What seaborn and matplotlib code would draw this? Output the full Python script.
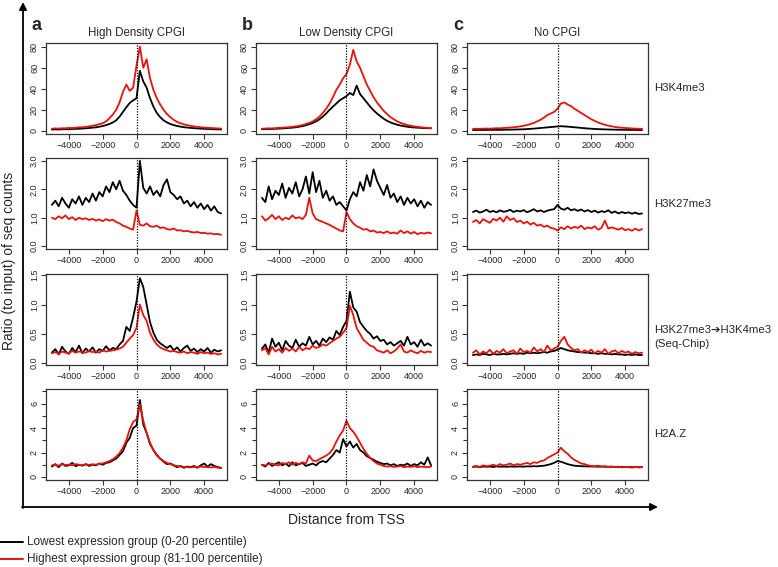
import matplotlib
matplotlib.use("Agg")
import matplotlib.pyplot as plt
import matplotlib.ticker as mticker
import seaborn as sns
import pandas as pd

# posicoes (pb) em relacao ao TSS
dist = list(range(-5000, 5001, 200))

col_titles = ["High Density CPGI", "Low Density CPGI", "No CPGI"]
col_letters = ["a", "b", "c"]
row_labels = ["H3K4me3", "H3K27me3", "H3K27me3\u2794H3K4me3\n(Seq-Chip)", "H2A.Z"]
group_names = ["Lowest expression group (0-20 percentile)",
               "Highest expression group (81-100 percentile)"]

# H3K4me3
k4_hd_low = [1.2, 1.4, 1.3, 1.5, 1.6, 1.5, 1.8, 1.9, 2.0, 2.2, 2.4, 2.7, 3.0, 3.4, 3.9, 4.6, 5.4, 6.5, 8.0, 10.0,
             13.5, 18.0, 22.5, 26.5, 29.0, 31.0,
             57.0, 47.0, 41.0, 31.0, 23.0, 17.0, 13.0, 10.0, 8.0, 6.5, 5.5, 4.6, 4.0, 3.5, 3.1, 2.8, 2.5, 2.3, 2.1, 1.9,
             1.8, 1.6, 1.5, 1.4, 1.3]
k4_hd_high = [2.0, 2.3, 2.1, 2.5, 2.4, 2.8, 2.7, 3.0, 3.3, 3.4, 3.8, 4.2, 4.8, 5.5, 6.3, 7.2, 9.0, 12.0, 15.5, 20.0,
              27.0, 37.0, 44.0, 38.0, 41.0, 62.0,
              80.0, 60.0, 68.0, 50.0, 39.0, 31.0, 25.0, 20.0, 16.0, 13.0, 10.5, 8.5, 7.2, 6.2, 5.4, 4.7, 4.2, 3.8, 3.4, 3.1,
              2.9, 2.7, 2.5, 2.3, 2.2]
k4_ld_low = [1.5, 1.6, 1.8, 1.7, 2.0, 2.1, 2.3, 2.5, 2.8, 3.0, 3.4, 3.9, 4.5, 5.3, 6.3, 7.5, 9.0, 11.0, 13.5, 16.5,
             20.0, 23.0, 26.0, 29.0, 31.0, 33.0,
             36.0, 34.0, 43.0, 35.0, 31.0, 27.0, 23.0, 19.5, 16.5, 14.0, 11.5, 9.5, 8.0, 6.8, 5.8, 5.0, 4.4, 3.9, 3.5, 3.2,
             3.0, 2.8, 2.6, 2.5, 2.4]
k4_ld_high = [2.0, 2.2, 2.4, 2.3, 2.6, 2.8, 3.0, 3.2, 3.5, 3.8, 4.2, 4.8, 5.5, 6.5, 7.5, 9.0, 11.0, 13.5, 17.0, 21.0,
              26.0, 32.0, 39.0, 44.0, 50.0, 54.0,
              63.0, 77.0, 66.0, 60.0, 52.0, 44.0, 38.0, 32.0, 27.0, 23.0, 19.0, 16.0, 13.0, 11.0, 9.0, 7.5, 6.5, 5.5, 4.8, 4.2,
              3.8, 3.4, 3.1, 2.8, 2.6]
k4_no_low = [0.8, 0.8, 0.9, 0.8, 0.9, 0.9, 1.0, 0.9, 1.0, 1.0, 1.1, 1.1, 1.2, 1.3, 1.4, 1.5, 1.7, 1.9, 2.1, 2.4,
             2.7, 3.0, 3.3, 3.6, 3.9, 4.2,
             4.4, 4.2, 4.0, 3.7, 3.4, 3.1, 2.8, 2.5, 2.2, 2.0, 1.8, 1.6, 1.5, 1.4, 1.3, 1.2, 1.1, 1.1, 1.0, 1.0,
             0.9, 0.9, 0.9, 0.8, 0.8]
k4_no_high = [1.8, 2.0, 1.9, 2.1, 2.2, 2.0, 2.3, 2.5, 2.4, 2.7, 2.9, 3.1, 3.4, 3.8, 4.2, 4.8, 5.5, 6.5, 7.5, 9.0,
              10.5, 12.5, 15.0, 16.5, 18.0, 21.0,
              26.0, 27.0, 25.0, 23.5, 21.0, 19.0, 17.0, 15.0, 13.0, 11.0, 9.5, 8.0, 6.8, 5.8, 5.0, 4.3, 3.7, 3.3, 3.0, 2.7,
              2.5, 2.3, 2.1, 2.0, 1.9]

# H3K27me3
k27_hd_low = [1.45, 1.60, 1.40, 1.70, 1.50, 1.35, 1.65, 1.50, 1.75, 1.45, 1.70, 1.55, 1.85, 1.60, 1.90, 1.75, 2.10, 1.90,
              2.25, 2.00, 2.30, 1.95, 1.80, 1.60, 1.45, 1.35,
              3.00, 2.05, 1.85, 2.10, 1.80, 1.95, 1.75, 2.15, 2.35, 1.90, 1.80, 1.65, 1.75, 1.50, 1.60, 1.40, 1.55, 1.35,
              1.50, 1.30, 1.45, 1.25, 1.40, 1.20, 1.15]
k27_hd_high = [1.00, 0.95, 1.05, 0.98, 1.08, 0.95, 1.02, 0.92, 1.00, 0.95, 0.98, 0.92, 0.96, 0.90, 0.94, 0.88, 0.95, 0.90,
               0.93, 0.85, 0.80, 0.72, 0.68, 0.62, 0.58, 1.25,
               0.75, 0.72, 0.80, 0.70, 0.68, 0.72, 0.64, 0.66, 0.60, 0.58, 0.62, 0.55, 0.56, 0.52, 0.54, 0.50, 0.48, 0.50,
               0.46, 0.47, 0.44, 0.45, 0.42, 0.43, 0.40]
k27_ld_low = [1.70, 1.55, 2.10, 1.65, 1.95, 1.80, 2.20, 1.70, 2.05, 1.85, 2.25, 1.75, 2.00, 2.45, 1.85, 2.60, 1.90, 2.30,
              1.70, 1.95, 1.60, 1.75, 1.45, 1.55, 1.40, 1.25,
              1.65, 1.90, 1.75, 2.25, 1.95, 2.50, 2.10, 2.70, 2.30, 2.05, 1.80, 2.15, 1.70, 1.85, 1.55, 1.75, 1.45, 1.70,
              1.50, 1.65, 1.40, 1.60, 1.35, 1.55, 1.45]
k27_ld_high = [1.05, 0.90, 0.98, 1.10, 0.95, 1.05, 0.92, 1.00, 0.95, 1.08, 0.98, 1.02, 0.95, 1.10, 1.70, 1.15, 0.95, 0.90,
               0.85, 0.80, 0.75, 0.68, 0.62, 0.55, 0.52, 1.20,
               0.95, 0.80, 0.70, 0.65, 0.58, 0.60, 0.52, 0.55, 0.48, 0.50, 0.46, 0.52, 0.45, 0.48, 0.44, 0.55, 0.46, 0.52,
               0.44, 0.50, 0.42, 0.47, 0.44, 0.48, 0.45]
k27_no_low = [1.20, 1.25, 1.18, 1.22, 1.28, 1.20, 1.24, 1.19, 1.26, 1.21, 1.23, 1.28, 1.20, 1.25, 1.22, 1.27, 1.19, 1.24,
              1.30, 1.22, 1.26, 1.20, 1.25, 1.28, 1.30, 1.45,
              1.32, 1.28, 1.35, 1.26, 1.30, 1.24, 1.29, 1.22, 1.27, 1.20, 1.25, 1.18, 1.23, 1.20, 1.26, 1.17, 1.22, 1.15,
              1.20, 1.16, 1.19, 1.14, 1.18, 1.13, 1.15]
k27_no_high = [0.85, 0.92, 0.80, 0.95, 0.88, 0.82, 0.96, 0.90, 1.00, 0.86, 1.05, 0.92, 0.98, 0.85, 0.90, 0.80, 0.86, 0.76,
               0.82, 0.72, 0.76, 0.68, 0.72, 0.64, 0.62, 0.55,
               0.66, 0.60, 0.70, 0.62, 0.68, 0.64, 0.72, 0.60, 0.66, 0.62, 0.70, 0.58, 0.64, 0.90, 0.62, 0.66, 0.62, 0.58,
               0.64, 0.56, 0.60, 0.54, 0.62, 0.55, 0.60]

# H3K27me3 -> H3K4me3 (Seq-Chip)
seq_hd_low = [0.18, 0.24, 0.15, 0.28, 0.20, 0.16, 0.26, 0.19, 0.30, 0.17, 0.25, 0.20, 0.27, 0.18, 0.24, 0.21, 0.29, 0.22,
              0.26, 0.24, 0.32, 0.38, 0.62, 0.55, 0.78, 1.05,
              1.45, 1.30, 1.00, 0.70, 0.52, 0.40, 0.34, 0.30, 0.26, 0.30, 0.22, 0.27, 0.20, 0.26, 0.30, 0.21, 0.25, 0.19,
              0.24, 0.20, 0.26, 0.18, 0.23, 0.20, 0.22]
seq_hd_high = [0.17, 0.19, 0.16, 0.20, 0.18, 0.17, 0.21, 0.18, 0.20, 0.19, 0.18, 0.21, 0.19, 0.20, 0.18, 0.22, 0.20, 0.21,
               0.22, 0.23, 0.25, 0.28, 0.35, 0.42, 0.48, 0.60,
               1.00, 0.82, 0.72, 0.52, 0.40, 0.32, 0.27, 0.24, 0.22, 0.20, 0.21, 0.19, 0.18, 0.20, 0.17, 0.19, 0.18, 0.16,
               0.19, 0.17, 0.18, 0.16, 0.17, 0.15, 0.16]
seq_ld_low = [0.25, 0.32, 0.18, 0.42, 0.28, 0.35, 0.22, 0.38, 0.30, 0.26, 0.40, 0.28, 0.34, 0.30, 0.45, 0.32, 0.38, 0.30,
              0.42, 0.36, 0.44, 0.40, 0.55, 0.48, 0.62, 0.72,
              1.22, 0.95, 0.88, 0.70, 0.62, 0.55, 0.50, 0.42, 0.46, 0.38, 0.40, 0.32, 0.36, 0.30, 0.34, 0.38, 0.30, 0.45,
              0.32, 0.36, 0.28, 0.40, 0.30, 0.34, 0.30]
seq_ld_high = [0.22, 0.26, 0.15, 0.28, 0.20, 0.24, 0.18, 0.26, 0.21, 0.25, 0.20, 0.28, 0.22, 0.26, 0.24, 0.30, 0.26, 0.28,
               0.32, 0.30, 0.34, 0.38, 0.42, 0.45, 0.52, 0.60,
               0.98, 0.82, 0.60, 0.50, 0.40, 0.35, 0.30, 0.28, 0.22, 0.20, 0.18, 0.22, 0.17, 0.20, 0.25, 0.32, 0.20, 0.18,
               0.22, 0.19, 0.17, 0.21, 0.18, 0.20, 0.19]
seq_no_low = [0.14, 0.15, 0.14, 0.16, 0.15, 0.14, 0.16, 0.15, 0.15, 0.16, 0.15, 0.16, 0.17, 0.16, 0.17, 0.16, 0.18, 0.17,
              0.18, 0.17, 0.18, 0.19, 0.18, 0.20, 0.21, 0.23,
              0.26, 0.24, 0.22, 0.21, 0.20, 0.19, 0.19, 0.18, 0.18, 0.17, 0.17, 0.16, 0.17, 0.16, 0.16, 0.15, 0.16, 0.15,
              0.15, 0.14, 0.15, 0.14, 0.15, 0.14, 0.14]
seq_no_high = [0.18, 0.22, 0.15, 0.20, 0.17, 0.23, 0.16, 0.21, 0.18, 0.24, 0.17, 0.20, 0.22, 0.16, 0.25, 0.19, 0.21, 0.18,
               0.27, 0.20, 0.24, 0.19, 0.30, 0.22, 0.25, 0.28,
               0.38, 0.45, 0.32, 0.26, 0.22, 0.24, 0.18, 0.22, 0.19, 0.23, 0.17, 0.21, 0.18, 0.24, 0.16, 0.20, 0.22, 0.17,
               0.21, 0.18, 0.20, 0.16, 0.19, 0.17, 0.18]

# H2A.Z
h2az_hd_low = [0.85, 1.05, 0.80, 1.10, 0.90, 0.95, 1.15, 0.88, 1.00, 0.92, 1.05, 0.90, 1.00, 0.95, 1.10, 1.00, 1.15, 1.20,
               1.35, 1.50, 1.80, 2.10, 2.80, 3.20, 4.00, 4.20,
               6.30, 4.30, 3.60, 2.70, 2.20, 1.80, 1.50, 1.25, 1.05, 1.10, 0.95, 0.80, 0.90, 0.75, 0.85, 0.80, 0.90, 0.75,
               0.95, 1.10, 0.85, 1.05, 0.90, 0.80, 0.75]
h2az_hd_high = [0.95, 1.00, 0.92, 1.05, 0.98, 1.00, 0.95, 1.05, 1.00, 0.96, 1.02, 0.98, 1.04, 1.00, 1.08, 1.10, 1.20, 1.30,
                1.45, 1.65, 1.95, 2.40, 3.00, 3.90, 4.50, 4.70,
                5.90, 4.60, 3.60, 2.80, 2.20, 1.75, 1.50, 1.30, 1.15, 1.05, 0.95, 0.90, 0.85, 0.82, 0.80, 0.78, 0.82, 0.80,
                0.85, 0.82, 0.80, 0.78, 0.82, 0.76, 0.72]
h2az_ld_low = [1.00, 0.85, 1.15, 0.90, 1.05, 1.20, 0.95, 1.10, 0.88, 1.20, 0.95, 1.05, 1.15, 0.90, 1.00, 1.10, 0.95, 1.20,
               1.30, 1.20, 1.50, 1.80, 2.20, 2.00, 3.10, 2.50,
               2.90, 2.40, 2.70, 2.20, 2.00, 1.70, 1.55, 1.40, 1.25, 1.15, 1.05, 1.10, 0.95, 1.05, 0.90, 1.00, 0.95, 1.10,
               0.90, 1.05, 0.95, 1.20, 1.00, 1.60, 0.95]
h2az_ld_high = [1.00, 0.95, 1.05, 1.10, 1.00, 0.95, 1.15, 1.05, 1.20, 1.00, 1.15, 1.05, 1.20, 1.10, 1.75, 1.35, 1.30, 1.45,
                1.60, 1.75, 1.95, 2.30, 2.90, 3.40, 3.80, 4.60,
                4.00, 3.70, 3.30, 2.80, 2.30, 1.90, 1.55, 1.30, 1.10, 1.00, 0.90, 0.85, 0.88, 0.82, 0.85, 0.90, 0.80, 0.85,
                0.82, 0.88, 0.80, 0.85, 0.82, 0.80, 0.85]
h2az_no_low = [0.82, 0.85, 0.80, 0.86, 0.83, 0.85, 0.82, 0.86, 0.84, 0.85, 0.83, 0.86, 0.84, 0.85, 0.86, 0.84, 0.87, 0.86,
               0.88, 0.87, 0.90, 0.92, 0.98, 1.05, 1.15, 1.30,
               1.25, 1.15, 1.05, 0.98, 0.92, 0.90, 0.88, 0.87, 0.86, 0.86, 0.85, 0.84, 0.85, 0.84, 0.83, 0.84, 0.82, 0.83,
               0.82, 0.81, 0.82, 0.80, 0.81, 0.80, 0.80]
h2az_no_high = [0.85, 0.90, 0.82, 0.95, 0.88, 0.92, 1.00, 0.90, 1.05, 0.95, 1.00, 1.10, 0.95, 1.05, 1.00, 1.08, 1.15, 1.05,
                1.20, 1.15, 1.30, 1.35, 1.55, 1.70, 1.85, 2.00,
                2.40, 2.10, 1.90, 1.60, 1.40, 1.25, 1.10, 1.05, 0.95, 0.90, 0.88, 0.92, 0.85, 0.88, 0.82, 0.85, 0.80, 0.84,
                0.78, 0.82, 0.80, 0.76, 0.82, 0.78, 0.80]

panels = [
    [(k4_hd_low, k4_hd_high), (k4_ld_low, k4_ld_high), (k4_no_low, k4_no_high)],
    [(k27_hd_low, k27_hd_high), (k27_ld_low, k27_ld_high), (k27_no_low, k27_no_high)],
    [(seq_hd_low, seq_hd_high), (seq_ld_low, seq_ld_high), (seq_no_low, seq_no_high)],
    [(h2az_hd_low, h2az_hd_high), (h2az_ld_low, h2az_ld_high), (h2az_no_low, h2az_no_high)],
]

ylims = [(-3, 83.5), (-0.1, 3.1), (-0.03, 1.52), (-0.25, 7.2)]
yticks = [[0, 20, 40, 60, 80], [0, 1, 2, 3], [0, 0.5, 1.0, 1.5], [0, 2, 4, 6]]
yfmt = ["%d", "%.1f", "%.1f", "%d"]

sns.set_style("ticks")
plt.rcParams["font.family"] = ["Liberation Sans", "DejaVu Sans"]

W, H = 778, 567
fig = plt.figure(figsize=(W / 100, H / 100), dpi=100)

col_x = [46, 256, 467]
row_y = [43, 158, 274, 389]
pw, ph = 181, 91
pal = {group_names[0]: "black", group_names[1]: "#e8120c"}

for r in range(4):
    for c in range(3):
        x0, y0 = col_x[c], row_y[r]
        ax = fig.add_axes([x0 / W, 1 - (y0 + ph) / H, pw / W, ph / H])
        low, high = panels[r][c]
        df = pd.DataFrame({
            "dist": dist + dist,
            "ratio": low + high,
            "grupo": [group_names[0]] * len(dist) + [group_names[1]] * len(dist),
        })
        sns.lineplot(data=df, x="dist", y="ratio", hue="grupo", palette=pal, estimator=None,
                     linewidth=1.3, legend=False, ax=ax)
        ax.axvline(0, color="black", ls=(0, (1, 1.2)), lw=0.9, zorder=5)
        ax.set_xlim(-5350, 5350)
        ax.set_ylim(*ylims[r])
        ax.set_xticks([-4000, -2000, 0, 2000, 4000])
        ax.set_yticks(yticks[r])
        ax.yaxis.set_major_formatter(mticker.FormatStrFormatter(yfmt[r]))
        if r == 3:
            ax.yaxis.set_minor_locator(mticker.FixedLocator([1, 3, 5, 7]))
            ax.tick_params(axis="y", which="minor", length=3, width=0.8, color="#333333")
        ax.set_xlabel("")
        ax.set_ylabel("")
        ax.tick_params(axis="both", which="major", labelsize=6.5, length=3.5, width=0.8,
                       pad=1.5, color="#333333")
        for lab in ax.get_yticklabels():
            lab.set_rotation(90)
            lab.set_verticalalignment("center")
        for s in ax.spines.values():
            s.set_linewidth(0.9)
            s.set_color("#333333")

# camada de anotacoes (pixels)
ov = fig.add_axes([0, 0, 1, 1], zorder=10)
ov.set_xlim(0, W)
ov.set_ylim(H, 0)
ov.axis("off")

for c in range(3):
    ov.text(col_x[c] - 9, 25, col_letters[c], fontsize=13, fontweight="bold", ha="center", va="center")
    ov.text(col_x[c] + pw / 2, 33, col_titles[c], fontsize=8.3, ha="center", va="center")

label_y = [88, 204, 337, 434]
for r in range(4):
    ov.text(654, label_y[r], row_labels[r], fontsize=8.2, ha="left", va="center", linespacing=1.4)

ov.annotate("", xy=(23, 2), xytext=(23, 508),
            arrowprops=dict(arrowstyle="-|>", lw=1.3, color="black", mutation_scale=11, shrinkA=0, shrinkB=0))
ov.annotate("", xy=(658, 507), xytext=(22, 507),
            arrowprops=dict(arrowstyle="-|>", lw=1.3, color="black", mutation_scale=11, shrinkA=0, shrinkB=0))

ov.text(9, 261, "Ratio (to input) of seq counts", fontsize=10, rotation=90, ha="center", va="center")
ov.text(346, 520, "Distance from TSS", fontsize=10, ha="center", va="center")

ov.plot([0, 23], [542, 542], color="black", lw=1.4)
ov.plot([0, 23], [559, 559], color="#e8120c", lw=1.4)
ov.text(27, 542, group_names[0], fontsize=8.5, ha="left", va="center")
ov.text(27, 559, group_names[1], fontsize=8.5, ha="left", va="center")

fig.savefig("out.png", dpi=100)
